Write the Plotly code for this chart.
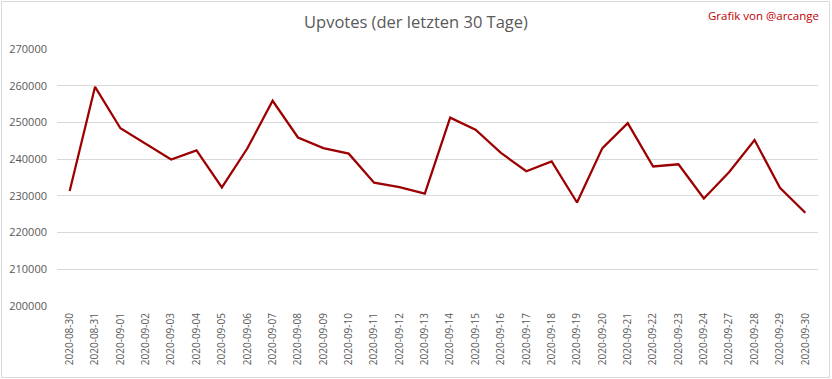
import plotly.graph_objects as go

dates = ["2020-08-30", "2020-08-31", "2020-09-01", "2020-09-02", "2020-09-03", "2020-09-04",
         "2020-09-05", "2020-09-06", "2020-09-07", "2020-09-08", "2020-09-09", "2020-09-10",
         "2020-09-11", "2020-09-12", "2020-09-13", "2020-09-14", "2020-09-15", "2020-09-16",
         "2020-09-17", "2020-09-18", "2020-09-19", "2020-09-20", "2020-09-21", "2020-09-22",
         "2020-09-23", "2020-09-24", "2020-09-27", "2020-09-28", "2020-09-29", "2020-09-30"]
upvotes = [231300, 259700, 248400, 244100, 239900, 242400,
           232300, 242900, 255900, 245900, 243000, 241500,
           233600, 232400, 230600, 251300, 248000, 241700,
           236700, 239400, 228200, 243000, 249800, 238000,
           238600, 229300, 236500, 245200, 232200, 225400]
y_ticks = [200000, 210000, 220000, 230000, 240000, 250000, 260000, 270000]

W, H = 832, 379
ml, mr, mt, mb = 57, 14, 49, 73
pw, ph = W - ml - mr, H - mt - mb

fig = go.Figure(go.Scatter(
    x=dates, y=upvotes, mode="lines",
    line=dict(color="#9c0000", width=2.25),
    hoverinfo="x+y",
))

font = "Open Sans, Liberation Sans, sans-serif"
fig.update_layout(
    template="none",
    width=W, height=H,
    margin=dict(l=ml, r=mr, t=mt, b=mb, autoexpand=False),
    paper_bgcolor="white", plot_bgcolor="white",
    showlegend=False,
    font=dict(family=font, color="#595959", size=10),
    title=dict(text="Upvotes (der letzten 30 Tage)", x=0.5, xanchor="center",
               xref="container", yref="container",
               y=1 - 22 / H, yanchor="middle",
               font=dict(size=16.5, color="#595959", family=font)),
    xaxis=dict(type="category", range=[-0.5, len(dates) - 0.5], automargin=False,
               tickangle=-90, showgrid=False, zeroline=False, ticklabelstandoff=4,
               showline=False, ticks="", tickfont=dict(size=10, color="#595959")),
    yaxis=dict(range=[y_ticks[0], y_ticks[-1]], tickvals=y_ticks, automargin=False,
               ticktext=[str(v) for v in y_ticks], ticklabelstandoff=9,
               showgrid=True, gridcolor="#d9d9d9", gridwidth=1,
               zeroline=False, showline=False, ticks="",
               tickfont=dict(size=11, color="#595959")),
    annotations=[dict(text="Grafik von @arcange", xref="paper", yref="paper",
                      x=(821 - ml) / pw, y=1 + (mt - 15) / ph,
                      xanchor="right", yanchor="middle", showarrow=False,
                      font=dict(size=11.5, color="#c00000", family=font))],
    shapes=[dict(type="rect", xref="paper", yref="paper",
                 x0=(1.5 - ml) / pw, x1=(829.5 - ml) / pw,
                 y0=-(377.5 - (H - mt - mb) - mt) / ph, y1=1 + (mt - 1.5) / ph,
                 line=dict(color="#d9d9d9", width=1), fillcolor="rgba(0,0,0,0)",
                 layer="above")],
)

fig.write_html("out.html", config={"displayModeBar": False},
               post_script="document.body.style.margin='0';document.body.style.padding='0';")
